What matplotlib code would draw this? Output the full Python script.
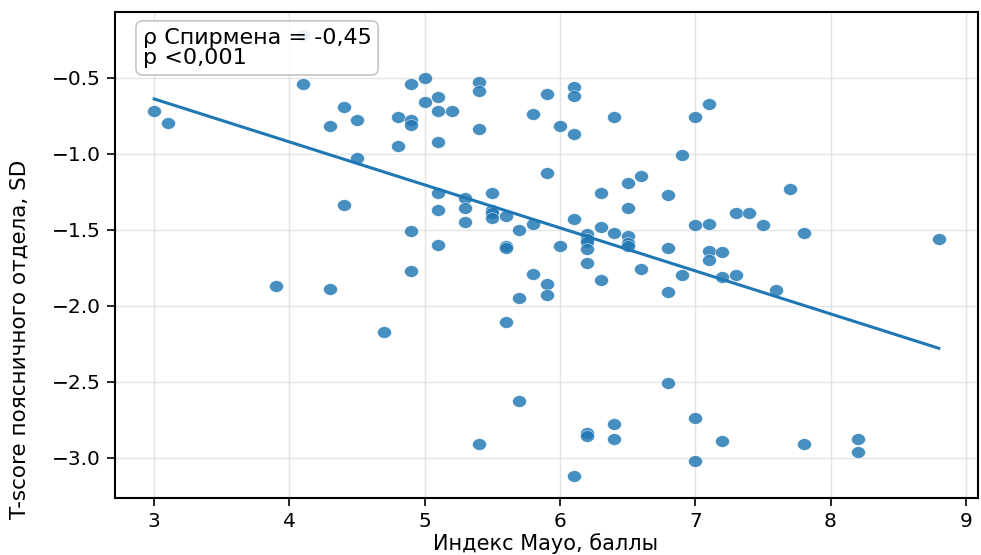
import numpy as np
import matplotlib
matplotlib.use("Agg")
import matplotlib.pyplot as plt
from matplotlib.path import Path

# Data
mayo_index = [
    3.0, 3.1, 4.1, 4.1, 4.3, 4.4, 4.5, 4.4, 4.5, 3.9, 4.3, 4.7,
    4.8, 4.8, 4.9, 4.9, 4.9, 5.0, 5.0, 5.1, 5.1, 5.2, 5.1,
    4.9, 4.9, 5.1, 5.1, 5.1, 5.3, 5.3, 5.3,
    5.4, 5.4, 5.4, 5.5, 5.5, 5.5, 5.5, 5.6, 5.6, 5.6, 5.7, 5.8,
    5.8, 5.9, 5.9, 6.0, 6.1, 6.1, 6.1, 6.0, 6.1,
    6.2, 6.2, 6.2, 6.2, 6.2, 6.3, 6.3, 6.3, 6.4, 6.4,
    6.5, 6.5, 6.5, 6.5, 6.5, 6.6, 6.6, 6.8, 6.8, 6.8, 6.9, 6.9,
    7.0, 7.1, 7.0, 7.1, 7.1, 7.1, 7.2, 7.2, 7.3, 7.3, 7.4, 7.5,
    7.7, 7.8, 7.6, 8.8,
    5.6, 5.7, 5.8, 5.9, 5.9, 5.7, 5.4, 6.1, 6.2, 6.2, 6.4, 6.4,
    6.8, 7.0, 7.0, 7.2, 7.8, 8.2, 8.2,
]
t_score = [
    -0.72, -0.80, -0.54, -0.22, -0.82, -0.69, -0.78, -1.34, -1.03, -1.87, -1.89, -2.17,
    -0.76, -0.95, -0.54, -0.78, -0.81, -0.50, -0.66, -0.63, -0.72, -0.72, -0.92,
    -1.51, -1.77, -1.26, -1.37, -1.60, -1.29, -1.36, -1.45,
    -0.53, -0.59, -0.84, -1.26, -1.37, -1.39, -1.42, -1.41, -1.61, -1.62, -1.50, -1.46,
    -0.74, -0.61, -1.13, -0.82, -0.87, -0.56, -0.62, -1.61, -1.43,
    -1.53, -1.56, -1.58, -1.63, -1.72, -1.48, -1.26, -1.83, -1.52, -0.76,
    -1.19, -1.36, -1.54, -1.59, -1.61, -1.15, -1.76, -1.27, -1.62, -1.91, -1.01, -1.80,
    -0.76, -0.67, -1.47, -1.46, -1.64, -1.70, -1.65, -1.81, -1.80, -1.39, -1.39, -1.47,
    -1.23, -1.52, -1.90, -1.56,
    -2.11, -1.95, -1.79, -1.86, -1.93, -2.63, -2.91, -3.12, -2.84, -2.86, -2.78, -2.88,
    -2.51, -2.74, -3.02, -2.89, -2.91, -2.88, -2.96,
]
fit_x = [3.0, 8.8]
fit_y = [-0.64, -2.28]

x_ticks = [3, 4, 5, 6, 7, 8, 9]
y_ticks = [-3.0, -2.5, -2.0, -1.5, -1.0, -0.5]
x_label = "Индекс Mayo, баллы"
y_label = "T-score поясничного отдела, SD"
stats_text = "ρ Спирмена = -0,45\np <0,001"

plt.rcParams['font.family'] = ['DejaVu Sans']

W, H = 981, 555
fig = plt.figure(figsize=(W / 100, H / 100), dpi=100)
ax = fig.add_axes([115 / W, 1 - 498 / H, (978 - 115) / W, (498 - 12) / H])

# slightly wide elliptical marker (reference is horizontally stretched)
t = np.linspace(0, 2 * np.pi, 60)
ell = Path(np.column_stack([0.5 * np.cos(t), 0.42 * np.sin(t)]), closed=True)

ax.scatter(mayo_index, t_score, marker=ell, s=100, color="#1f77b4", alpha=0.82,
           edgecolors="white", linewidths=0.4, zorder=3)
ax.plot(fit_x, fit_y, color="#1f77b4", lw=2.2, zorder=4)

ax.set_xticks(x_ticks)
ax.set_yticks(y_ticks)
ax.set_ylim(-3.265, -0.068)
ax.grid(True, color="#d9d9d9", lw=1.0, alpha=0.7)
ax.set_axisbelow(True)
ax.tick_params(labelsize=14.5, length=6, width=1.2, direction="out", pad=4)
for sp in ax.spines.values():
    sp.set_linewidth(1.5)
    sp.set_color("black")

ax.text(0.032, 0.968, stats_text, transform=ax.transAxes, fontsize=16,
        va="top", ha="left", linespacing=1.05, zorder=5,
        bbox=dict(boxstyle="round,pad=0.3", facecolor="white",
                  edgecolor="#bdbdbd", alpha=0.88, lw=1.2))

fig.text(546 / W, 1 - 554 / H, x_label, ha="center", va="bottom", fontsize=15)
fig.text(20 / W, 1 - 339 / H, y_label, ha="center", va="center",
         rotation=90, fontsize=15.5)

fig.savefig("out.png", dpi=100)
